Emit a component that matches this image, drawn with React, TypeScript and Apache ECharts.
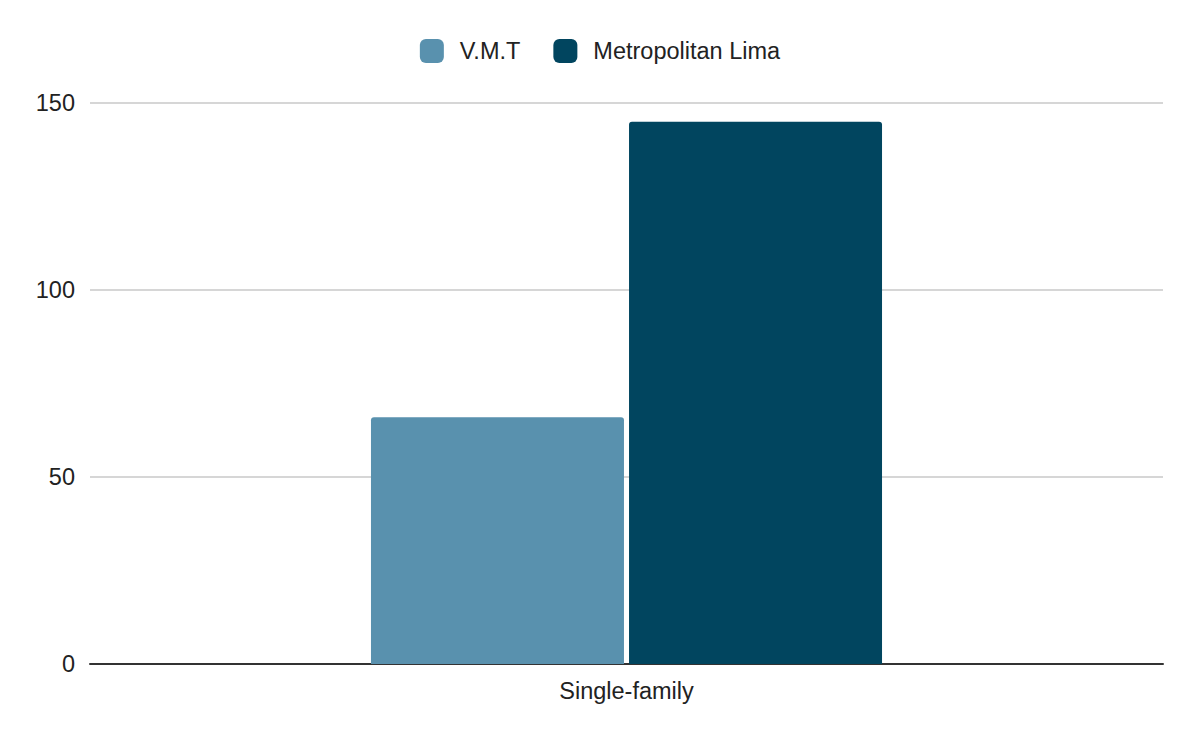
import React, { useEffect, useRef } from "react";
import * as echarts from "echarts";

const categories = ["Single-family"];
const vmtValues = [66];
const limaValues = [145];
const seriesNames = ["V.M.T", "Metropolitan Lima"];

export default function App() {
  const ref = useRef<HTMLDivElement>(null);
  useEffect(() => {
    const chart = echarts.init(ref.current!, null, { renderer: "svg" });
    chart.setOption({
      animation: false,
      textStyle: { fontFamily: "Liberation Sans, Arial, sans-serif" },
      legend: {
        top: 34,
        left: "center",
        itemWidth: 24,
        itemHeight: 24,
        itemGap: 33,
        icon: "roundRect",
        textStyle: { fontSize: 23.5, color: "#222", padding: [0, 0, 0, 11] },
        data: seriesNames,
      },
      grid: { left: 90, right: 37, top: 103, bottom: 78 },
      xAxis: {
        type: "category",
        data: categories,
        axisLine: { lineStyle: { color: "#333", width: 2 } },
        axisTick: { show: false },
        axisLabel: { fontSize: 23.5, color: "#222", margin: 15 },
      },
      yAxis: {
        type: "value",
        min: 0,
        max: 150,
        interval: 50,
        axisLine: { show: false },
        axisTick: { show: false },
        axisLabel: { fontSize: 23.5, color: "#222", margin: 15 },
        splitLine: { lineStyle: { color: "#c8c8c8", width: 1.5 } },
      },
      series: [
        {
          name: seriesNames[0],
          type: "bar",
          data: vmtValues,
          barWidth: 253,
          barGap: "2%",
          itemStyle: { color: "#5991ae", borderRadius: [3, 3, 0, 0] },
        },
        {
          name: seriesNames[1],
          type: "bar",
          data: limaValues,
          barWidth: 253,
          itemStyle: { color: "#01455f", borderRadius: [3, 3, 0, 0] },
        },
      ],
    });
    return () => chart.dispose();
  }, []);
  return (
    <div
      ref={ref}
      style={{ position: "absolute", left: 0, top: 0, width: 1200, height: 742 }}
    />
  );
}
